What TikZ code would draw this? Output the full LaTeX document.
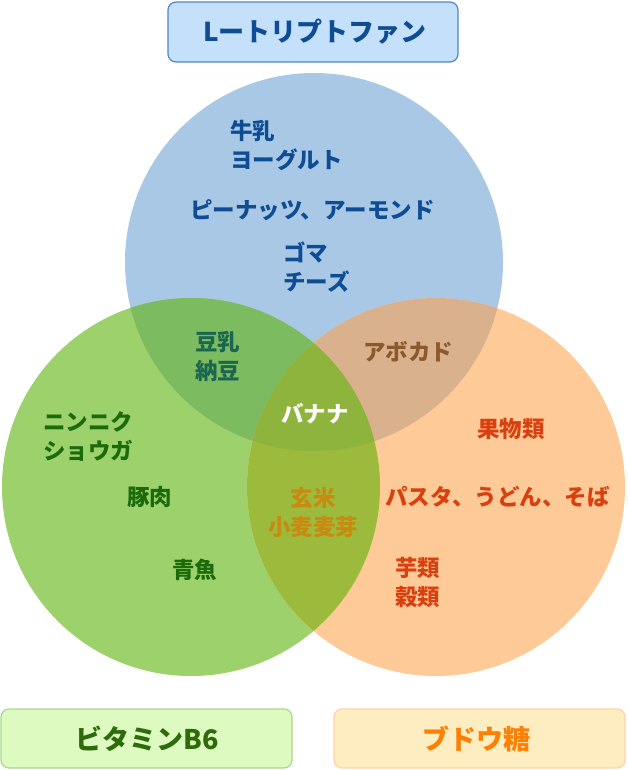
\documentclass[tikz,border=0pt]{standalone}
\usepackage{fontspec}
\setmainfont{Noto Sans CJK JP Black}
\definecolor{cBlue}{HTML}{A8C8E6}
\definecolor{cGreen}{HTML}{9DD16B}
\definecolor{cOrange}{HTML}{FECB98}
\definecolor{cBG}{HTML}{7CBB5F}
\definecolor{cBO}{HTML}{D9B18D}
\definecolor{cGO}{HTML}{9CBA3C}
\definecolor{cAll}{HTML}{8FB43E}
\definecolor{tBlue}{HTML}{0E4D94}
\definecolor{tGreen}{HTML}{1B6B0B}
\definecolor{tTeal}{HTML}{1A6650}
\definecolor{tBrown}{HTML}{8A5A2E}
\definecolor{tOchre}{HTML}{C98A10}
\definecolor{tRed}{HTML}{D9400F}
\definecolor{hBlueF}{HTML}{C4E0FA}
\definecolor{hBlueD}{HTML}{4D88CC}
\definecolor{hGreenF}{HTML}{DDFBC0}
\definecolor{hGreenD}{HTML}{A8D888}
\definecolor{hOrF}{HTML}{FFEDC2}
\definecolor{hOrD}{HTML}{FFD2A6}
\definecolor{hOrT}{HTML}{FF7F00}
\definecolor{hGrT}{HTML}{2E6B0A}
\begin{document}
\begin{tikzpicture}[x=1pt,y=-1pt,
  item/.style={font=\fontsize{22.5}{29}\selectfont, inner sep=0pt, align=left, anchor=west},
  header/.style={rounded corners=8pt, line width=1.2pt},
]
\useasboundingbox (0,0) rectangle (627,770);
\def\R{189}
\coordinate (cB) at (314,262);
\coordinate (cG) at (191,487);
\coordinate (cO) at (436,487);
% circles
\fill[cBlue] (cB) circle[radius=\R];
\fill[cGreen] (cG) circle[radius=\R];
\fill[cOrange] (cO) circle[radius=\R];
\begin{scope}
  \clip (cB) circle[radius=\R];
  \fill[cBG] (cG) circle[radius=\R];
  \fill[cBO] (cO) circle[radius=\R];
\end{scope}
\begin{scope}
  \clip (cG) circle[radius=\R];
  \fill[cGO] (cO) circle[radius=\R];
\end{scope}
\begin{scope}
  \clip (cB) circle[radius=\R];
  \clip (cG) circle[radius=\R];
  \fill[cAll] (cO) circle[radius=\R];
\end{scope}
% headers
\path[header, fill=hBlueF, draw=hBlueD] (168,2) rectangle (458,62);
\node[font=\fontsize{26}{32}\selectfont, text=tBlue] (hTrp) at (315,32) {Lートリプトファン};
\path[header, fill=hGreenF, draw=hGreenD] (1,709) rectangle (292,768);
\node[font=\fontsize{27}{32}\selectfont, text=hGrT] (hB6) at (147,739) {ビタミンB6};
\path[header, fill=hOrF, draw=hOrD] (334,709) rectangle (625,768);
\node[font=\fontsize{27}{32}\selectfont, text=hOrT] (hGlu) at (476,739) {ブドウ糖};
% blue items
\node[item, text=tBlue] (milk) at (230,146) {牛乳\\ヨーグルト};
\node[item, text=tBlue] (nuts) at (190,210) {ピーナッツ、アーモンド};
\node[item, text=tBlue] (goma) at (283,267) {ゴマ\\チーズ};
% overlaps
\node[item, text=tTeal] (soy) at (195,356) {豆乳\\納豆};
\node[item, text=tBrown] (avo) at (363,352) {アボカド};
\node[font=\fontsize{22.5}{29}\selectfont, inner sep=0pt, text=white] (banana) at (315,414) {バナナ};
\node[font=\fontsize{22.5}{29}\selectfont, inner sep=0pt, align=center, text=tOchre] (rice) at (313,512) {玄米\\小麦麦芽};
% green items
\node[item, text=tGreen] (garlic) at (43,437) {ニンニク\\ショウガ};
\node[item, text=tGreen] (pork) at (127,497) {豚肉};
\node[item, text=tGreen] (fish) at (172,570) {青魚};
% orange items
\node[item, text=tRed] (fruit) at (477,429) {果物類};
\node[item, text=tRed] (pasta) at (385,497) {パスタ、うどん、そば};
\node[item, text=tRed] (imo) at (395,582) {芋類\\穀類};
\end{tikzpicture}
\end{document}
